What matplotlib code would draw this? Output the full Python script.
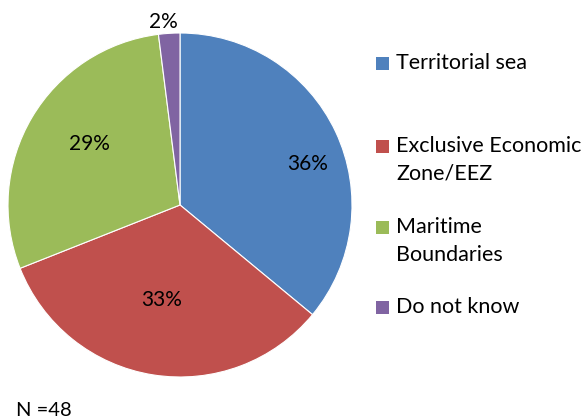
import matplotlib
matplotlib.use("Agg")
import matplotlib.pyplot as plt
from matplotlib.patches import Rectangle

plt.rcParams['font.family'] = ['Lato', 'DejaVu Sans']

# data
categories = ["Territorial sea", "Exclusive Economic\nZone/EEZ", "Maritime\nBoundaries", "Do not know"]
shares = [36, 33, 29, 2]
colors = ["#4F81BD", "#C0504D", "#9BBB59", "#8064A2"]
n_label = "N =48"

# label spots (pie units), picked by eye like Excel's best fit
label_pos = [(0.744, 0.238), (-0.105, -0.552), (-0.529, 0.355), (-0.099, 1.064)]

W, H = 587, 420
fig = plt.figure(figsize=(W / 100, H / 100), dpi=100)

cx, cy, r = 180, 205, 172
ax = fig.add_axes([(cx - r) / W, (H - cy - r) / H, 2 * r / W, 2 * r / H])
ax.pie(shares, colors=colors, startangle=90, counterclock=False, radius=1,
       wedgeprops=dict(linewidth=0.8, edgecolor="white"))
ax.set_xlim(-1, 1)
ax.set_ylim(-1, 1)
ax.set_aspect("equal")
ax.axis("off")

for v, (x, y) in zip(shares, label_pos):
    ax.text(x, y, f"{v}%", ha="center", va="center", fontsize=15, clip_on=False)

# legend, drawn by hand, one line at a time
first_line_y = [63, 146, 227, 307]
line_gap = 28
for lab, col, y in zip(categories, colors, first_line_y):
    fig.patches.append(Rectangle((376 / W, (H - y - 6.5) / H), 13 / W, 13 / H,
                                 transform=fig.transFigure, facecolor=col, edgecolor="none"))
    for i, part in enumerate(lab.split("\n")):
        fig.text(396 / W, (H - y - i * line_gap) / H, part, ha="left", va="center", fontsize=15.5)

fig.text(16 / W, (H - 411) / H, n_label, ha="left", va="center", fontsize=14.5)

fig.savefig("out.png", dpi=100)
